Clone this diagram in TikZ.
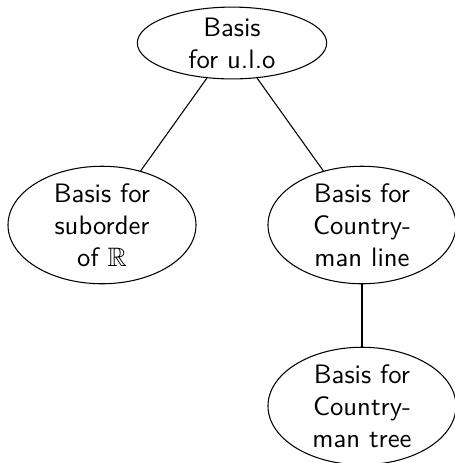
\documentclass[tikz,border=0pt]{standalone}
\usepackage{amsmath, amssymb}
\usepackage{tikz}
\usetikzlibrary{positioning, shapes.geometric}

\tikzset{
  basisnode/.style={draw, ellipse, align=center, font=\sffamily,
                    inner sep=0pt, minimum width=70.5pt, minimum height=43.5pt}
}

\begin{document}
\begin{tikzpicture}[x=0.375pt, y=-0.375pt]
  \useasboundingbox (0,0) rectangle (455,463);
  \node[basisnode, minimum width=71pt, minimum height=26.6pt] (ulo) at (232,43)
    {Basis\\for u.l.o};
  \node[basisnode] (suborder) at (102,225)
    {Basis for\\suborder\\of $\mathbb{R}$};
  \node[basisnode] (cline) at (362,225)
    {Basis for\\Country-\\man line};
  \node[basisnode] (ctree) at (362,406)
    {Basis for\\Country-\\man tree};

  \draw (ulo) -- (suborder);
  \draw (ulo) -- (cline);
  \draw (cline) -- (ctree);
\end{tikzpicture}
\end{document}
